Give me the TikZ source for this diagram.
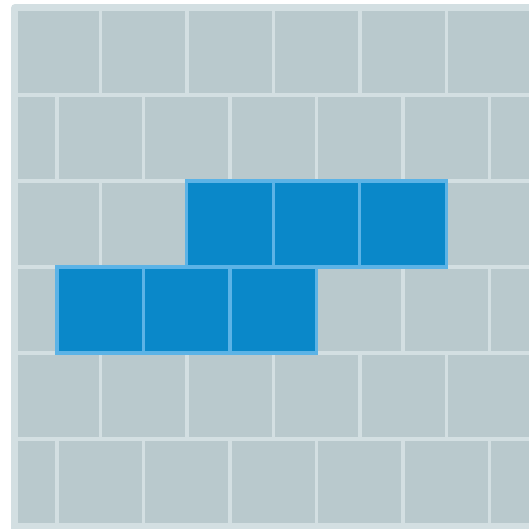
\documentclass[tikz,border=0pt]{standalone}
\usetikzlibrary{positioning}
\definecolor{wlFrame}{HTML}{D3DFE2}
\definecolor{wlCell}{HTML}{B9C9CD}
\definecolor{wlBlue}{HTML}{0A88C9}
\definecolor{wlBlueLine}{HTML}{5CB3E6}
\tikzset{
  % Light frame behind the wall
  framebox/.style={
    fill=wlFrame,
    rounded corners=4pt
  },
  % Gray brick of the wall
  wallcell/.style={
    rectangle,
    fill=wlCell,
    minimum width=83pt,
    minimum height=82pt,
    inner sep=0pt,
    anchor=north west
  },
  % Highlighted blue brick
  bluecell/.style={
    rectangle,
    draw=wlBlueLine,
    fill=wlBlue,
    line width=3.3pt,
    minimum width=86.5pt,
    minimum height=86pt,
    inner sep=0pt
  }
}
\begin{document}
\begin{tikzpicture}[x=1pt, y=-1pt]

%% === Canvas ===
\clip (0,0) rectangle (529,528);
\fill[white] (0,0) rectangle (529,528);

%% === Frame ===
\fill[framebox] (11,4) rectangle (580,580);

%% === Wall of gray bricks ===
\begin{scope}
  \clip (18,11) rectangle (580,523);
  \foreach \r in {0,...,5} {
    \pgfmathsetmacro{\xoff}{mod(\r,2)==1 ? -27.75 : 15.5}
    \foreach \c in {0,...,6}
      \node[wallcell] (cell-\r-\c) at (\xoff+86.5*\c, 11+86*\r) {};
  }
\end{scope}

%% === Blue bricks ===
% upper row
\foreach \x [count=\i] in {230,316.5,403}
  \node[bluecell] (top-\i) at (\x,224) {};
% lower row
\foreach \x [count=\i] in {100.25,186.75,273.25}
  \node[bluecell] (low-\i) at (\x,310) {};

\end{tikzpicture}
\end{document}
